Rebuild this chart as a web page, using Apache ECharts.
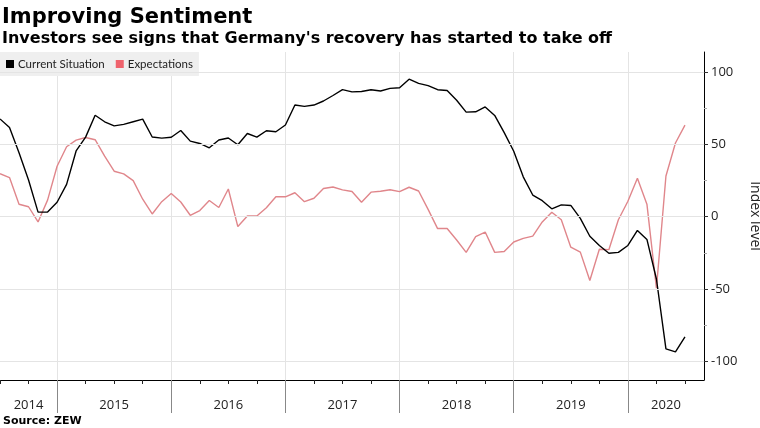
<!DOCTYPE html>
<html><head><meta charset="utf-8">
<script src="https://cdn.jsdelivr.net/npm/echarts@6/dist/echarts.min.js"></script>
<style>html,body{margin:0;padding:0;background:#fff}#c{width:760px;height:428px}</style>
</head><body><div id="c"></div>
<script>
// Monthly categories (month-end readings), Jun 2014 .. Aug 2020
const months = [
 "2014-06","2014-07","2014-08","2014-09","2014-10","2014-11","2014-12",
 "2015-01","2015-02","2015-03","2015-04","2015-05","2015-06","2015-07","2015-08","2015-09","2015-10","2015-11","2015-12",
 "2016-01","2016-02","2016-03","2016-04","2016-05","2016-06","2016-07","2016-08","2016-09","2016-10","2016-11","2016-12",
 "2017-01","2017-02","2017-03","2017-04","2017-05","2017-06","2017-07","2017-08","2017-09","2017-10","2017-11","2017-12",
 "2018-01","2018-02","2018-03","2018-04","2018-05","2018-06","2018-07","2018-08","2018-09","2018-10","2018-11","2018-12",
 "2019-01","2019-02","2019-03","2019-04","2019-05","2019-06","2019-07","2019-08","2019-09","2019-10","2019-11","2019-12",
 "2020-01","2020-02","2020-03","2020-04","2020-05","2020-06","2020-07","2020-08"
];
const currentSituation = [
 67.7, 61.8, 44.3, 25.4, 3.2, 3.3, 10.0,
 22.4, 45.5, 55.1, 70.2, 65.7, 62.9, 63.9, 65.7, 67.5, 55.2, 54.4, 55.0,
 59.7, 52.3, 50.7, 47.7, 53.1, 54.5, 49.8, 57.6, 55.1, 59.5, 58.8, 63.5,
 77.3, 76.4, 77.3, 80.1, 83.9, 88.0, 86.4, 86.7, 87.9, 87.0, 88.8, 89.3,
 95.2, 92.3, 90.7, 87.9, 87.4, 80.6, 72.4, 72.6, 76.0, 70.1, 58.2, 45.3,
 27.6, 15.0, 11.1, 5.5, 8.2, 7.8, -1.1, -13.5, -19.9, -25.3, -24.7, -19.9,
 -9.5, -15.7, -43.1, -91.5, -93.5, -83.1
];
const expectations = [
 29.8, 27.1, 8.6, 6.9, -3.6, 11.5, 34.9,
 48.4, 53.0, 54.8, 53.3, 41.9, 31.5, 29.7, 25.0, 12.1, 1.9, 10.4, 16.1,
 10.2, 1.0, 4.3, 11.2, 6.4, 19.2, -6.8, 0.5, 0.5, 6.2, 13.8, 13.8,
 16.6, 10.4, 12.8, 19.5, 20.6, 18.6, 17.5, 10.0, 17.0, 17.6, 18.7, 17.4,
 20.4, 17.8, 5.1, -8.2, -8.2, -16.1, -24.7, -13.7, -10.6, -24.7, -24.1, -17.5,
 -15.0, -13.4, -3.6, 3.1, -2.1, -21.1, -24.5, -44.1, -22.5, -22.8, -2.1, 10.7,
 26.7, 8.7, -49.5, 28.2, 51.0, 63.4
];
const yTickValues = [-100, -50, 0, 50, 100];
const yMinorTickValues = [-75, -25, 25, 75];
const yearLabelMonths = ["2014-09","2015-06","2016-06","2017-06","2018-06","2019-06","2020-04"];

const chart = echarts.init(document.getElementById('c'), null, {renderer: 'canvas'});
const isYearEnd = (i) => !!months[i] && months[i].slice(5) === '12';
const isQuarter = (i) => !!months[i] && ['03','06','09','12'].includes(months[i].slice(5));
const font = 'Open Sans';
chart.setOption({
  animation: false,
  backgroundColor: '#fff',
  title: [
    {text: 'Improving Sentiment', left: 2, top: 7, padding: 0,
     textStyle: {fontFamily: 'DejaVu Sans', fontWeight: 'bold', fontSize: 21, color: '#000'}},
    {text: "Investors see signs that Germany's recovery has started to take off", left: 2, top: 31, padding: 0,
     textStyle: {fontFamily: 'DejaVu Sans', fontWeight: 'bold', fontSize: 16, color: '#000'}},
    {text: 'Source: ZEW', left: 3, top: 416, padding: 0,
     textStyle: {fontFamily: 'DejaVu Sans', fontWeight: 'bold', fontSize: 11, color: '#000'}}
  ],
  legend: {
    data: ['Current Situation', 'Expectations'],
    left: 0, top: 52, padding: [6, 6, 6, 6],
    backgroundColor: '#efefef',
    icon: 'rect', itemWidth: 8, itemHeight: 8, itemGap: 11,
    textStyle: {fontFamily: 'Lato', fontSize: 11.5, color: '#222', padding: [0, 0, 0, -1]}
  },
  grid: {left: 0, right: 56, top: 52, bottom: 48, containLabel: false, outerBoundsMode: 'none'},
  xAxis: [
    {type: 'category', data: months, boundaryGap: false, position: 'bottom',
     axisLine: {show: true, onZero: false, lineStyle: {color: '#000', width: 1}},
     axisTick: {show: true, interval: (i) => isQuarter(i), length: 4, lineStyle: {color: '#222'}},
     axisLabel: {interval: (i, v) => yearLabelMonths.includes(v), formatter: (v) => v.slice(0, 4),
                 margin: 19, fontFamily: font, fontSize: 13, color: '#222'},
     splitLine: {show: true, interval: (i) => isYearEnd(i), lineStyle: {color: '#e4e4e4', width: 1}}},
    {type: 'category', data: months, boundaryGap: false, position: 'bottom',
     axisLine: {show: false, onZero: false},
     axisTick: {show: true, interval: (i) => isYearEnd(i), length: 33, lineStyle: {color: '#888'}},
     axisLabel: {show: false}, splitLine: {show: false}}
  ],
  yAxis: [
    {type: 'value', position: 'right', min: -113, max: 114,
     axisLine: {show: true, onZero: false, lineStyle: {color: '#000'}},
     axisTick: {show: true, length: 4, customValues: yTickValues, lineStyle: {color: '#333'}},
     axisLabel: {customValues: yTickValues, margin: 7, fontFamily: font, fontSize: 13, color: '#222'},
     splitLine: {show: false},
     name: 'Index level', nameLocation: 'middle', nameRotate: -90, nameGap: 44,
     nameTextStyle: {fontFamily: font, fontSize: 14, color: '#222'}},
    {type: 'value', position: 'right', min: -113, max: 114,
     axisLine: {show: false, onZero: false},
     axisTick: {show: true, length: 3, customValues: yMinorTickValues, lineStyle: {color: '#aaa'}},
     axisLabel: {show: false}, splitLine: {show: false}}
  ],
  series: [
    {name: 'grid', type: 'line', data: [], silent: true, z: 1,
     markLine: {silent: true, symbol: 'none', label: {show: false},
                lineStyle: {color: '#e4e4e4', type: 'solid', width: 1},
                data: yTickValues.map(v => ({yAxis: v}))}},
    {name: 'Expectations', type: 'line', data: expectations, showSymbol: false, symbol: 'none',
     itemStyle: {color: '#ef636d'}, lineStyle: {color: '#e0868b', width: 1.4}, z: 3},
    {name: 'Current Situation', type: 'line', data: currentSituation, showSymbol: false, symbol: 'none',
     itemStyle: {color: '#000'}, lineStyle: {color: '#000', width: 1.4}, z: 4}
  ]
});
</script>
</body></html>
